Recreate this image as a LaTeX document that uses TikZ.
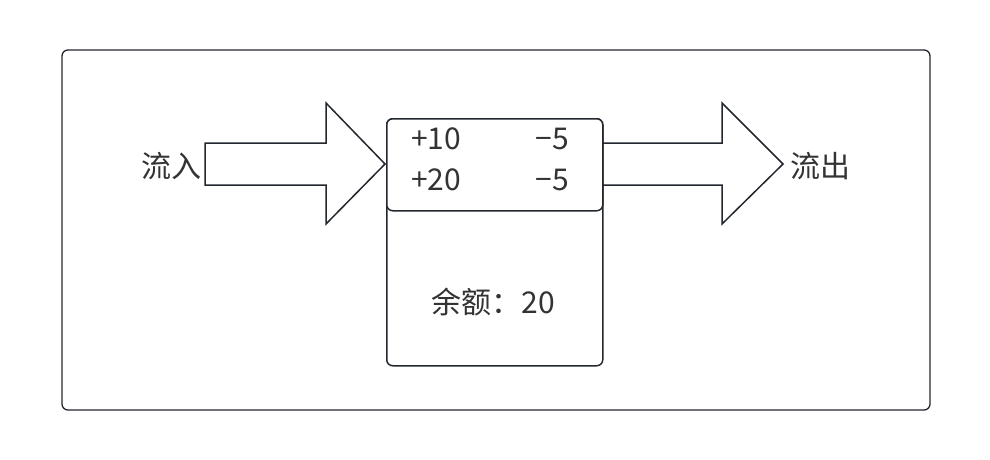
\documentclass[tikz,border=0pt]{standalone}
\usepackage{fontspec}
\setmainfont{Noto Sans CJK SC}
\begin{document}
\begin{tikzpicture}[x=1pt,y=-1pt,
  line/.style={draw=linec,line width=1.5pt,line join=miter},
  lbl/.style={font=\fontsize{30}{33}\selectfont,text=textc,inner sep=0pt,anchor=center},
  rbox/.style={line,rounded corners=6pt,fill=white}]
\definecolor{linec}{HTML}{23272E}
\definecolor{textc}{HTML}{333333}
\useasboundingbox[fill=white] (0,0) rectangle (990,460);
\draw[line,line width=1.3pt,rounded corners=6pt] (62,50) rectangle (930,410);
% left arrow
\draw[line,fill=white] (205,143) -- (326,143) -- (326,103) -- (385,164) -- (326,224) -- (326,185) -- (205,185) -- cycle;
% right arrow
\draw[line,fill=white] (602,143) -- (722,143) -- (722,103) -- (783,164) -- (722,224) -- (722,185) -- (602,185);
% boxes
\node[rbox,minimum width=216pt,minimum height=247pt,anchor=north west] (acct) at (386,118) {};
\node[rbox,minimum width=216pt,minimum height=92pt,anchor=north west] (flows) at (386,118) {};
\node[lbl] (in1) at (436,139) {+10};
\node[lbl] (out1) at (552,139) {−5};
\node[lbl] (in2) at (436,180) {+20};
\node[lbl] (out2) at (552,180) {−5};
\node[lbl] (bal) at (493,302) {余额：20};
\node[lbl] (inflow) at (171,166) {流入};
\node[lbl] (outflow) at (820,166) {流出};
\end{tikzpicture}
\end{document}
